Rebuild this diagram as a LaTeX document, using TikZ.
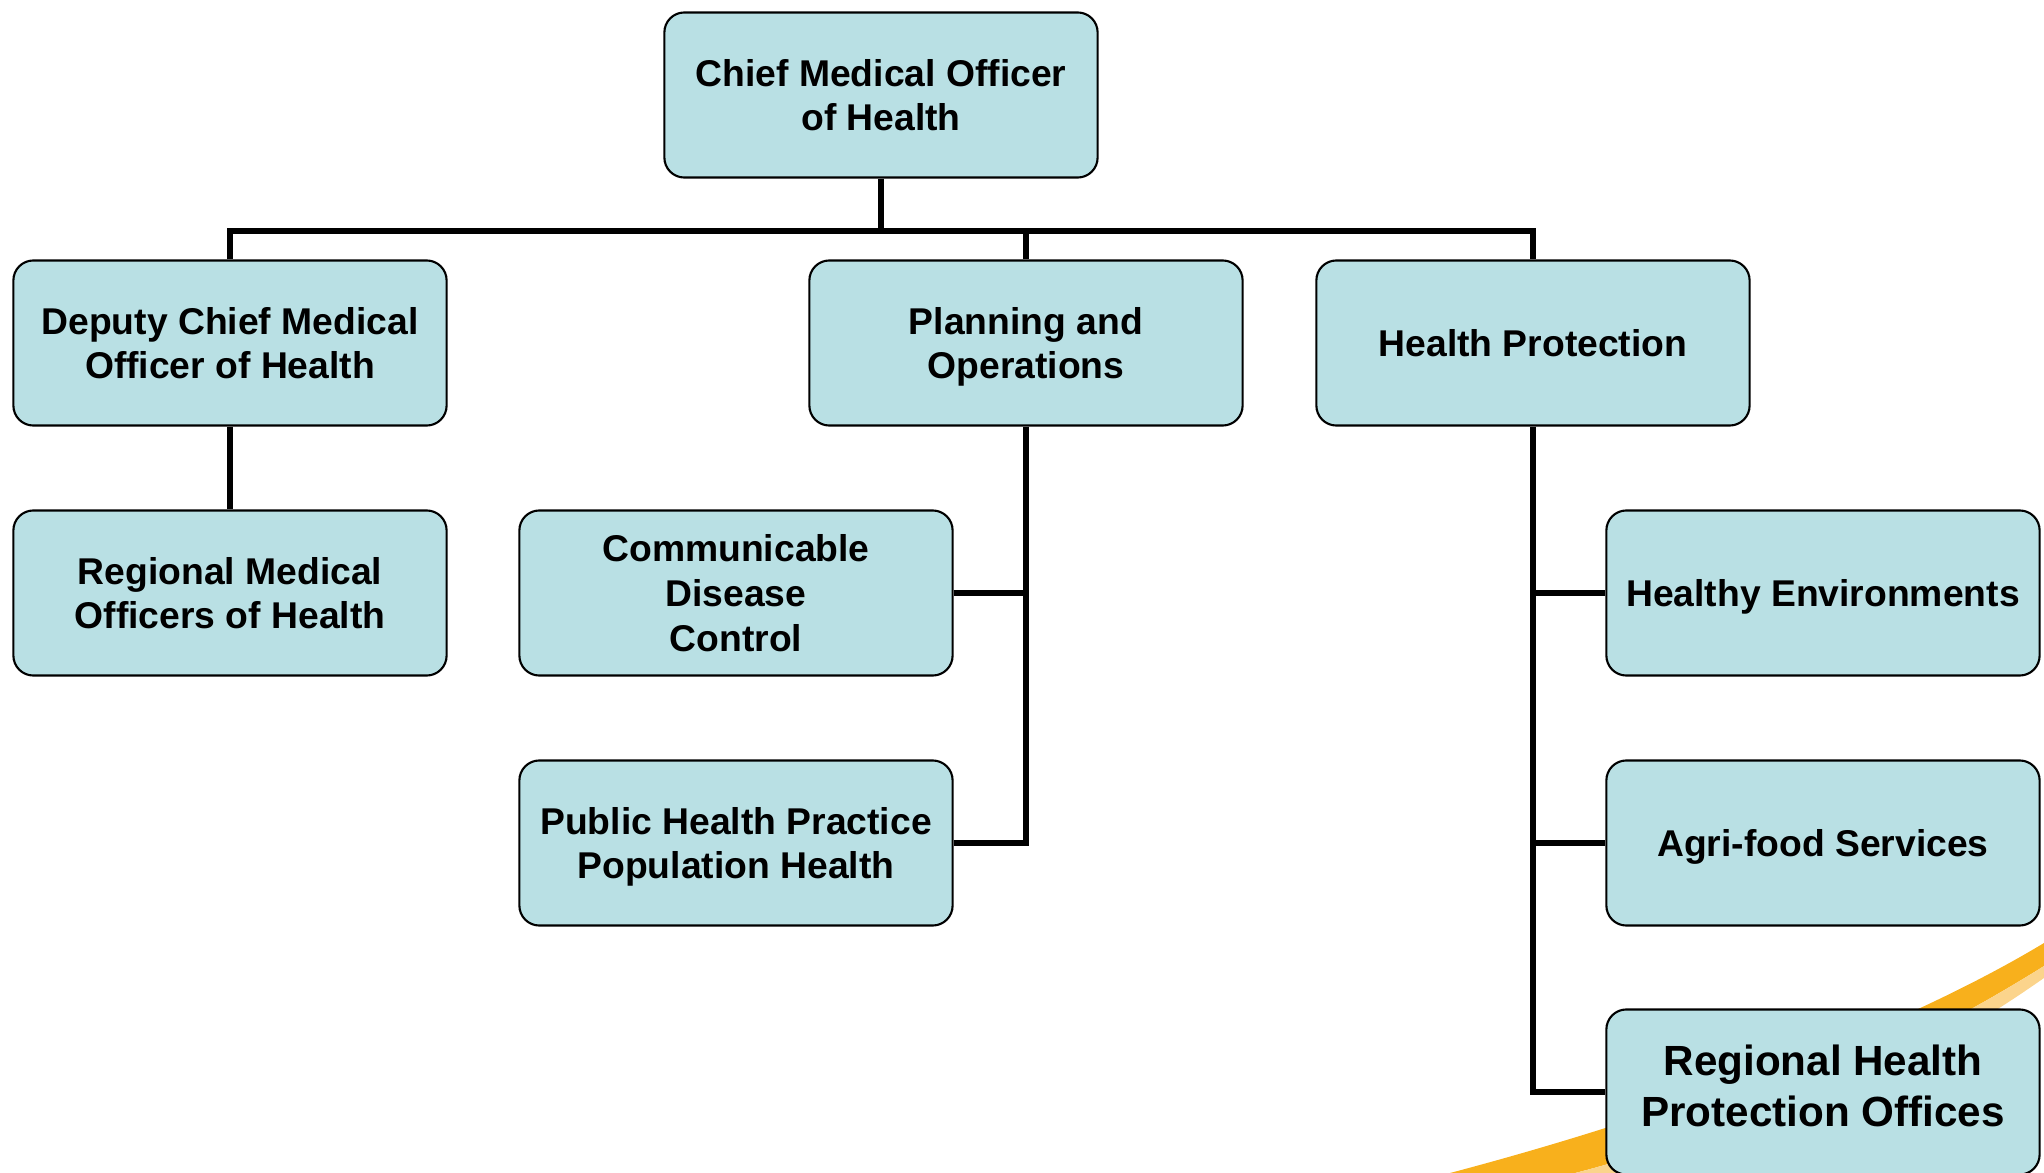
\documentclass[tikz,border=0pt]{standalone}
\usepackage{fontspec}
\setmainfont{Liberation Sans}
\usepackage{tikz}
\usepackage{xcolor}
\usetikzlibrary{shapes, positioning}

\definecolor{boxblue}{RGB}{185,224,228}
\definecolor{swooshorange}{RGB}{248,176,28}
\definecolor{swooshlight}{RGB}{251,212,140}

\tikzset{
    unitbox/.style={rectangle, rounded corners=0.2cm, draw, line width=0.6pt, fill=boxblue,
        minimum width=4.33cm, minimum height=1.65cm, align=center, text depth=0pt,
        font=\fontsize{10.6}{12.7}\selectfont\bfseries},
    link/.style={line width=1.45pt}
}

\begin{document}
\begin{tikzpicture}[x=0.01cm, y=-0.01cm]
        \useasboundingbox (0, 0) rectangle (2044, 1173);
        \clip (0, 0) rectangle (2044, 1173);

        \fill[swooshorange] (1450, 1173) .. controls (1670, 1115) and (1900, 1030) .. (2044, 943)
            -- (2044, 966) .. controls (1910, 1050) and (1725, 1135) .. (1575, 1173) -- cycle;
        \fill[swooshlight] (1575, 1173) .. controls (1725, 1135) and (1910, 1050) .. (2044, 966)
            -- (2044, 978) .. controls (1920, 1065) and (1765, 1140) .. (1650, 1173) -- cycle;

        \node[unitbox] at (881, 95) (cmoh) {Chief Medical Officer\\of Health};
        \node[unitbox] at (230, 343) (dcmoh) {Deputy Chief Medical\\Officer of Health};
        \node[unitbox] at (1026, 343) (plan) {Planning and\\Operations};
        \node[unitbox] at (1533, 343) (hprot) {Health Protection};
        \node[unitbox] at (230, 593) (rmoh) {Regional Medical\\Officers of Health};
        \node[unitbox] at (736, 593) (cdc) {Communicable\\Disease\\Control};
        \node[unitbox] at (736, 843) (phph) {Public Health Practice\\Population Health};
        \node[unitbox] at (1823, 593) (henv) {Healthy Environments};
        \node[unitbox] at (1823, 843) (agri) {Agri-food Services};
        \node[unitbox, text depth=0.13cm, font=\fontsize{12}{14.5}\selectfont\bfseries] at (1823, 1092) (rhpo) {Regional Health\\Protection Offices};

        \coordinate (bus) at (0, 231);

        \draw[link] (cmoh.south) -- (cmoh.south |- bus)
            (dcmoh.north) -- (dcmoh.north |- bus) -| (hprot.north)
            (plan.north) -- (plan.north |- bus)
            (dcmoh.south) -- (rmoh.north);

        \draw[link] (plan.south) |- (phph.east)
            (cdc.east) -- (cdc.east -| plan.south);

        \draw[link] (hprot.south) |- (rhpo.west)
            (henv.west) -- (henv.west -| hprot.south)
            (agri.west) -- (agri.west -| hprot.south);
    \end{tikzpicture}
\end{document}
